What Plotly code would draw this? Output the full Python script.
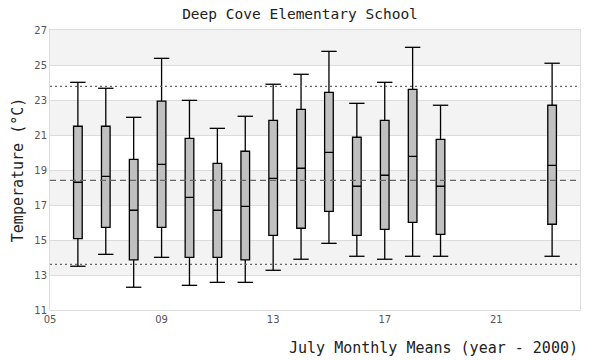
import plotly.graph_objects as go

years = [6, 7, 8, 9, 10, 11, 12, 13, 14, 15, 16, 17, 18, 19, 23]
lower = [13.50, 14.18, 12.30, 14.01, 12.41, 12.58, 12.58, 13.27, 13.90, 14.81, 14.07, 13.90, 14.07, 14.07, 14.07]
q1 = [15.08, 15.72, 13.86, 15.72, 14.01, 14.01, 13.86, 15.27, 15.67, 16.64, 15.27, 15.61, 16.01, 15.32, 15.90]
median = [18.30, 18.64, 16.70, 19.32, 17.44, 16.70, 16.92, 18.52, 19.10, 20.01, 18.07, 18.70, 19.78, 18.07, 19.27]
q3 = [21.50, 21.50, 19.61, 22.94, 20.81, 19.38, 20.07, 21.84, 22.47, 23.44, 20.87, 21.84, 23.61, 20.75, 22.70]
upper = [24.01, 23.67, 22.01, 25.38, 22.98, 21.38, 22.07, 23.90, 24.47, 25.78, 22.81, 24.01, 26.01, 22.70, 25.10]

mean_line = 18.41
upper_ref = 23.78
lower_ref = 13.61

band_lo = [13, 17, 21, 25]
band_hi = [15, 19, 23, 27]

y_ticks = [11, 13, 15, 17, 19, 21, 23, 25, 27]
x_ticks = [5, 9, 13, 17, 21]
x_ticktext = ["05", "09", "13", "17", "21"]

mono = "DejaVu Sans Mono, Liberation Mono, monospace"

fig = go.Figure()

fig.add_trace(go.Box(
    x=years, q1=q1, median=median, q3=q3,
    lowerfence=lower, upperfence=upper,
    width=0.31, whiskerwidth=0,
    fillcolor="#c0c0c0",
    line=dict(color="black", width=1.3),
    boxpoints=False, showlegend=False, hoverinfo="skip",
))

# whisker caps
fig.add_trace(go.Scatter(
    x=years + years, y=upper + lower, mode="markers",
    marker=dict(symbol="line-ew", size=11, line=dict(color="black", width=1.3)),
    showlegend=False, hoverinfo="skip",
))

shapes = []
for lo, hi in zip(band_lo, band_hi):
    shapes.append(dict(type="rect", xref="paper", yref="y", x0=0, x1=1, y0=lo, y1=hi,
                       fillcolor="#f3f3f3", line=dict(width=0), layer="below"))
shapes.append(dict(type="line", xref="paper", yref="y", x0=0, x1=1, y0=mean_line, y1=mean_line,
                   line=dict(color="#666", width=1.2, dash="6px,4px")))
for v in (upper_ref, lower_ref):
    shapes.append(dict(type="line", xref="paper", yref="y", x0=0, x1=1, y0=v, y1=v,
                       line=dict(color="#666", width=1.2, dash="2px,3px")))

fig.update_layout(
    width=600, height=360,
    margin=dict(l=50, r=20, t=30, b=50),
    paper_bgcolor="white", plot_bgcolor="white",
    shapes=shapes,
    title=dict(text="Deep Cove Elementary School", x=0.5, xanchor="center", y=0.96, yanchor="middle",
               font=dict(family=mono, size=14.5, color="#222")),
    xaxis=dict(range=[5, 24], tickvals=x_ticks, ticktext=x_ticktext, showgrid=False,
               zeroline=False, showline=True, linecolor="#dcdcdc", mirror=True,
               ticks="", tickfont=dict(family="DejaVu Sans", size=10, color="#555")),
    yaxis=dict(range=[11, 27], tickvals=y_ticks, showgrid=True, gridcolor="#dcdcdc",
               zeroline=False, showline=True, linecolor="#dcdcdc", mirror=True,
               ticks="", tickfont=dict(family="DejaVu Sans", size=10, color="#555")),
    annotations=[
        dict(text="July Monthly Means (year - 2000)", xref="paper", yref="paper", x=1.0, y=-0.135,
             xanchor="right", yanchor="middle", showarrow=False,
             font=dict(family=mono, size=15, color="#222")),
        dict(text="Temperature (°C)", xref="paper", yref="paper", x=-0.06, y=0.5,
             xanchor="center", yanchor="middle", textangle=-90, showarrow=False,
             font=dict(family=mono, size=15, color="#222")),
    ],
)

fig.write_html("out.html", config={"displayModeBar": False, "staticPlot": True})

with open("out.html", "r", encoding="utf-8") as f:
    html = f.read()
html = html.replace("<head>", "<head><style>html,body{margin:0;padding:0;overflow:hidden;}</style>", 1)
with open("out.html", "w", encoding="utf-8") as f:
    f.write(html)
